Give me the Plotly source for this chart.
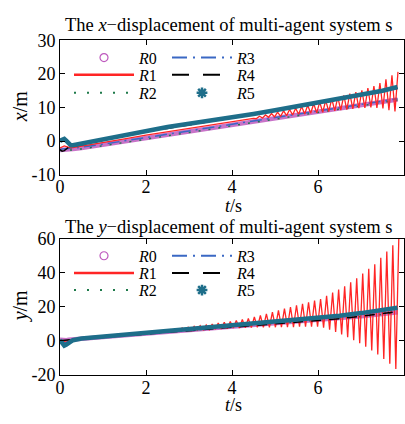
import numpy as np
import plotly.graph_objects as go

# ---------------- data ----------------
T = [0, 0.05, 0.1, 0.15, 0.2, 0.25, 0.3, 0.5, 1, 1.5, 2, 2.5, 3, 3.5, 4, 4.5,
     5, 5.5, 6, 6.5, 7, 7.5, 7.85]

# x-displacement
R0_x = [-2.6, -2.5, -2.5, -2.4, -2.4, -2.3, -2.3, -2.0, -1.1, -0.1, 0.9, 1.9, 2.9, 3.9,
        4.9, 5.9, 6.9, 7.9, 8.9, 9.9, 10.8, 11.7, 12.4]
R2_x = [-2.8, -2.8, -2.7, -2.7, -2.7, -2.6, -2.6, -2.3, -1.4, -0.4, 0.6, 1.6, 2.6, 3.6,
        4.6, 5.6, 6.6, 7.6, 8.6, 9.6, 10.6, 11.5, 12.2]
R3_x = [-2.4, -2.3, -2.3, -2.2, -2.2, -2.1, -2.1, -1.8, -0.9, 0.1, 1.1, 2.1, 3.1, 4.1,
        5.1, 6.1, 7.1, 8.1, 9.1, 10.1, 11.0, 11.9, 12.6]
R4_x = [-2.5, -3.0, -2.8, -2.3, -1.8, -1.6, -1.5, -1.1, 0.3, 1.6, 2.8, 3.8, 4.8, 5.8,
        6.8, 7.8, 8.9, 10.0, 11.1, 12.3, 13.5, 14.7, 15.7]
R5_x = [0.1, 0.4, 0.7, 0.1, -0.7, -1.2, -1.2, -0.7, 0.7, 2.0, 3.2, 4.2, 5.2, 6.1, 7.1,
        8.1, 9.2, 10.3, 11.4, 12.6, 13.8, 15.0, 16.1]
R1_x_base = [-2.0, -1.6, -1.4, -1.6, -1.9, -2.0, -1.9, -1.5, -0.4, 0.7, 1.8, 2.8, 3.8,
             4.8, 5.8, 6.8]
R1_x_trough_t = np.round(np.arange(4.57, 7.80, 0.14), 2)
R1_x_trough = [6.7, 6.9, 7.1, 7.2, 7.4, 7.6, 7.8, 8.0, 8.1, 8.3, 8.4, 8.6, 8.8, 9.0,
               9.2, 9.4, 9.6, 9.8, 9.9, 10.0, 9.9, 9.7, 9.2, 8.8]
R1_x_peak_t = np.round(np.arange(4.64, 7.87, 0.14), 2)
R1_x_peak = [7.4, 7.8, 8.2, 8.6, 9.0, 9.4, 9.8, 10.3, 10.7, 11.1, 11.6, 12.1, 12.6,
             13.1, 13.6, 14.1, 14.6, 15.1, 15.8, 16.4, 17.3, 18.4, 19.6, 20.6]

# y-displacement
R0_y = [0.6, 0.4, 0.3, 0.4, 0.6, 0.8, 0.9, 1.2, 2.2, 3.2, 4.2, 5.1, 6.0, 7.0, 7.9, 8.9,
        9.9, 10.9, 11.9, 13.0, 14.4, 15.8, 16.8]
R2_y = [0.4, 0.3, 0.2, 0.3, 0.5, 0.7, 0.8, 1.1, 2.1, 3.1, 4.1, 5.0, 5.9, 6.9, 7.8, 8.8,
        9.8, 10.8, 11.8, 12.9, 14.2, 15.6, 16.6]
R3_y = [0.4, -0.6, -1.5, -1.0, -0.5, 0.0, 0.4, 1.3, 2.4, 3.5, 4.5, 5.5, 6.5, 7.5, 8.6,
        9.7, 10.8, 12.0, 13.2, 14.6, 16.1, 17.8, 19.2]
R4_y = [0.0, 0.2, 0.4, 0.5, 0.6, 0.7, 0.8, 1.0, 2.0, 3.0, 4.0, 4.9, 5.8, 6.8, 7.8, 8.8,
        9.8, 10.8, 11.9, 13.0, 14.5, 16.2, 17.2]
R5_y = [0.5, -1.8, -2.8, -2.2, -1.2, -0.3, 0.4, 1.4, 2.5, 3.6, 4.6, 5.6, 6.6, 7.6, 8.7,
        9.8, 11.0, 12.2, 13.4, 14.8, 16.3, 18.0, 19.5]
R1_y_base_t = [0, 0.05, 0.1, 0.15, 0.2, 0.3, 0.4, 0.5, 1.0, 1.5, 1.86]
R1_y_base = [0.5, 0.1, -0.3, 0.0, 0.3, 0.9, 1.2, 1.4, 2.4, 3.5, 4.2]
R1_y_trough_t = np.round(np.arange(1.93, 7.82, 0.14), 2)
R1_y_trough = [4.3, 4.5, 4.7, 5.0, 5.2, 5.5, 5.7, 5.9, 6.1, 6.3, 6.5, 6.6, 6.8, 7.0,
               7.3, 7.5, 7.6, 7.7, 7.8, 7.9, 8.0, 8.0, 8.0, 8.1, 8.1, 8.1, 8.3, 8.4,
               8.4, 8.3, 7.7, 6.6, 5.2, 3.7, 2.1, 0.4, -1.4, -3.4, -5.6, -8.0, -10.6,
               -13.4, -16.5]
R1_y_peak_t = np.round(np.arange(2.00, 7.89, 0.14), 2)
R1_y_peak = [5.0, 5.4, 5.8, 6.2, 6.6, 7.1, 7.6, 8.0, 8.5, 9.0, 9.4, 9.9, 10.4, 10.9,
             11.4, 11.9, 12.5, 13.1, 14.0, 14.9, 15.9, 16.9, 17.9, 18.9, 19.9, 20.9,
             21.8, 22.7, 23.6, 24.6, 26.4, 28.3, 30.2, 32.0, 34.4, 36.7, 39.5, 42.3,
             45.0, 48.8, 52.5, 56.2, 61.0]

X_TICKS = [0, 2, 4, 6, 8]
X_TICKTEXT = ["0", "2", "4", "6", "8"]
YX_TICKS = [-10, 0, 10, 20, 30]
YX_TICKTEXT = ["-10", "0", "10", "20", "30"]
YY_TICKS = [-20, 0, 20, 40, 60]
YY_TICKTEXT = ["-20", "0", "20", "40", "60"]
NAMES = ["R0", "R1", "R2", "R3", "R4", "R5"]

# ---------------- style ----------------
FONT = "Liberation Serif"
C_R0 = "#BE5ABE"
C_R1 = "#FF2525"
C_R2 = "#1E7A4A"
C_R3 = "#3A68C4"
C_R4 = "#000000"
C_R5 = "#1E6E8A"

W, H = 405, 424
ML, MR = 60, 1


def px_x(px):
    return (px - ML) / (W - ML - MR)


def px_y(py):
    return (H - py) / H


def zig(base_t, base_v, tr_t, tr_v, pk_t, pk_v):
    pts = list(zip(base_t, base_v)) + list(zip(tr_t, tr_v)) + list(zip(pk_t, pk_v))
    pts.sort(key=lambda p: p[0])
    return [p[0] for p in pts], [p[1] for p in pts]


fig = go.Figure()

panels = [
    dict(xa="x", ya="y", R=dict(R0=R0_x, R2=R2_x, R3=R3_x, R4=R4_x, R5=R5_x),
         r1=zig(T[:len(R1_x_base)], R1_x_base, R1_x_trough_t, R1_x_trough, R1_x_peak_t, R1_x_peak)),
    dict(xa="x2", ya="y2", R=dict(R0=R0_y, R2=R2_y, R3=R3_y, R4=R4_y, R5=R5_y),
         r1=zig(R1_y_base_t, R1_y_base, R1_y_trough_t, R1_y_trough, R1_y_peak_t, R1_y_peak)),
]

for p in panels:
    xa, ya, R = p["xa"], p["ya"], p["R"]
    fig.add_trace(go.Scatter(x=T, y=R["R0"], mode="lines", xaxis=xa, yaxis=ya, showlegend=False,
                             line=dict(color="rgba(190,90,190,0.85)", width=4.5)))
    fig.add_trace(go.Scatter(x=T, y=R["R2"], mode="lines", xaxis=xa, yaxis=ya, showlegend=False,
                             line=dict(color=C_R2, width=1.5, dash="2px,8px")))
    fig.add_trace(go.Scatter(x=T, y=R["R3"], mode="lines", xaxis=xa, yaxis=ya, showlegend=False,
                             line=dict(color=C_R3, width=1.5, dash="12px,5px,2px,5px")))
    fig.add_trace(go.Scatter(x=p["r1"][0], y=p["r1"][1], mode="lines", xaxis=xa, yaxis=ya,
                             showlegend=False, line=dict(color=C_R1, width=1.3)))
    fig.add_trace(go.Scatter(x=T, y=R["R4"], mode="lines", xaxis=xa, yaxis=ya, showlegend=False,
                             line=dict(color=C_R4, width=1.5, dash="10px,8px")))
    fig.add_trace(go.Scatter(x=T, y=R["R5"], mode="lines", xaxis=xa, yaxis=ya, showlegend=False,
                             line=dict(color=C_R5, width=4.5)))

# legend entries (one legend per entry for exact placement)
legend_styles = {
    "R0": dict(mode="markers", marker=dict(symbol="circle-open", color=C_R0, size=8, line=dict(width=1.2))),
    "R1": dict(mode="lines", line=dict(color=C_R1, width=2.5)),
    "R2": dict(mode="lines", line=dict(color=C_R2, width=2, dash="2px,11px")),
    "R3": dict(mode="lines", line=dict(color=C_R3, width=2, dash="15px,6px,2px,6px")),
    "R4": dict(mode="lines", line=dict(color=C_R4, width=2, dash="17px,14px")),
    "R5": dict(mode="markers", marker=dict(symbol="asterisk-open", color=C_R5, size=9, line=dict(width=2.5, color=C_R5))),
}
col_text_x = {"R0": 137, "R1": 137, "R2": 137, "R3": 235, "R4": 235, "R5": 235}
row_y_top = {"R0": 50, "R1": 68, "R2": 87, "R3": 50, "R4": 68, "R5": 87}
row_y_bot = {"R0": 258, "R1": 276, "R2": 294, "R3": 258, "R4": 276, "R5": 294}
ITEMW = 60
legends = {}
idx = 0
for pi, (xa, ya, rows) in enumerate([("x", "y", row_y_top), ("x2", "y2", row_y_bot)]):
    for name in NAMES:
        idx += 1
        key = "legend" if idx == 1 else f"legend{idx}"
        fig.add_trace(go.Scatter(x=[None], y=[None], xaxis=xa, yaxis=ya, name=f"<i>R</i>{name[1]}",
                                 legend=key, showlegend=True, **legend_styles[name]))
        legends[key] = dict(
            x=px_x(col_text_x[name] - ITEMW - 8), y=px_y(rows[name]),
            xanchor="left", yanchor="middle", bgcolor="rgba(0,0,0,0)", borderwidth=0,
            itemwidth=ITEMW, font=dict(family=FONT, size=16, color="black"),
            tracegroupgap=0,
        )

axis_common = dict(showline=True, linecolor="black", linewidth=1, mirror="ticks",
                   ticks="inside", ticklen=5, tickcolor="black", showgrid=False,
                   zeroline=False, tickfont=dict(family=FONT, size=18, color="black"))

fig.update_layout(
    width=W, height=H, margin=dict(l=ML, r=MR, t=0, b=0),
    paper_bgcolor="white", plot_bgcolor="white",
    xaxis=dict(domain=[0, 1], anchor="y", range=[0, 8], tickvals=X_TICKS, ticktext=X_TICKTEXT,
               ticklabelstandoff=-4, **axis_common),
    yaxis=dict(domain=[px_y(173), px_y(31.7)], anchor="x", range=[-10, 30], tickvals=YX_TICKS,
               ticktext=YX_TICKTEXT, **axis_common),
    xaxis2=dict(domain=[0, 1], anchor="y2", range=[0, 8], tickvals=X_TICKS, ticktext=X_TICKTEXT,
                ticklabelstandoff=-4, **axis_common),
    yaxis2=dict(domain=[px_y(383), px_y(240)], anchor="x2", range=[-20, 60], tickvals=YY_TICKS,
                ticktext=YY_TICKTEXT, **axis_common),
    **legends,
)

anns = [
    ("The <i>x</i>\u2212displacement of multi-agent system s", 228, 16, 0, 18.5),
    ("The <i>y</i>\u2212displacement of multi-agent system s", 228, 228, 0, 18.5),
    ("<i>t</i>/s", 233, 206, 0, 18),
    ("<i>t</i>/s", 233, 415, 0, 18),
    ("<i>x</i>/m", 20, 102, -90, 20),
    ("<i>y</i>/m", 20, 311, -90, 20),
]
for text, x, y, ang, fs in anns:
    fig.add_annotation(text=text, x=px_x(x), y=px_y(y), xref="paper", yref="paper",
                       showarrow=False, textangle=ang,
                       font=dict(family=FONT, size=fs, color="black"),
                       xanchor="center", yanchor="middle")

fig.write_html("out.html")
